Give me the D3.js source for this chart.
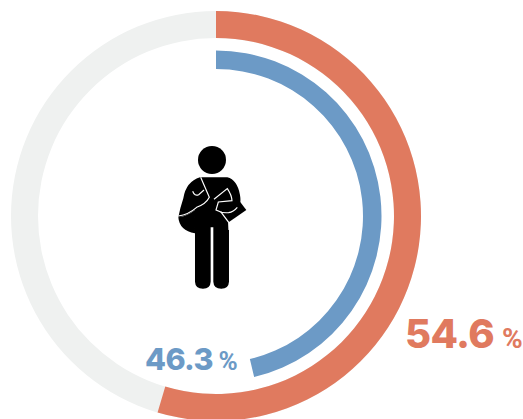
<!DOCTYPE html>
<html>
<head>
<meta charset="utf-8">
<script src="https://cdn.jsdelivr.net/npm/d3@7"></script>
<style>
  html, body { margin: 0; padding: 0; background: #fff; overflow: hidden; }
</style>
</head>
<body>
<div id="chart"></div>
<script>
const seriesNames = ['outer', 'inner'];
const seriesValues = [54.6, 46.3];
const seriesColors = ['#e07a5f', '#6c9ac6'];
const trackColor = '#eff1f0';

const width = 523,
  height = 419,
  cx = 216,
  cy = 216;

const svg = d3
  .select('#chart')
  .append('svg')
  .attr('width', width)
  .attr('height', height)
  .style('display', 'block');

const g = svg.append('g').attr('transform', 'translate(' + cx + ',' + cy + ')');

// Percent to angle, clockwise from the top
const angle = d3.scaleLinear().domain([0, 100]).range([0, 2 * Math.PI]);

const rings = {
  outer: { inner: 178, outer: 205 },
  inner: { inner: 147, outer: 165.5 },
};

// Grey track behind the outer ring
g.append('path')
  .attr('fill', trackColor)
  .attr(
    'd',
    d3.arc()({
      innerRadius: rings.outer.inner,
      outerRadius: rings.outer.outer,
      startAngle: 0,
      endAngle: angle(100),
    })
  );

// Value arcs
seriesNames.forEach((name, i) => {
  g.append('path')
    .attr('fill', seriesColors[i])
    .attr(
      'd',
      d3.arc()({
        innerRadius: rings[name].inner,
        outerRadius: rings[name].outer,
        startAngle: 0,
        endAngle: angle(seriesValues[i]),
      })
    );
});

// Labels
const labelStyle = [
  { x: 405, y: 348, size: 40, pctX: 502, pctSize: 28 },
  { x: 145, y: 370, size: 30.5, pctX: 218.5, pctSize: 26 },
];
seriesValues.forEach((v, i) => {
  const s = labelStyle[i];
  svg
    .append('text')
    .attr('x', s.x)
    .attr('y', s.y)
    .attr('fill', seriesColors[i])
    .style('font-family', 'Inter, sans-serif')
    .style('font-weight', 800)
    .style('letter-spacing', '-0.6px')
    .style('font-size', s.size + 'px')
    .text(v.toFixed(1));
  svg
    .append('text')
    .attr('x', s.pctX)
    .attr('y', s.y)
    .attr('fill', seriesColors[i])
    .style('font-family', 'Roboto, sans-serif')
    .style('font-weight', 700)
    .style('font-size', s.pctSize + 'px')
    .text('%');
});

// Student icon, traced in a 3x grid
const icon = svg.append('g').attr('transform', 'translate(150,130) scale(0.3333)');
icon.append('circle').attr('cx', 186).attr('cy', 90).attr('r', 42).attr('fill', '#000');
// bag flap behind right arm
icon.append('path').attr('fill', '#000').attr('d', 'M262,205 L289,240 L236,277 L212,245 Z');
// bag at the hip
icon.append('path').attr('fill', '#000').attr('d', 'M85,262 Q112,258 135,240 L135,310 Q88,302 85,262 Z');
// torso and legs
icon
  .append('path')
  .attr('fill', '#000')
  .attr(
    'd',
    'M165,142 L232,142 Q262,150 270,195 Q275,225 262,240 L237,262 L237,455 Q236,476 214,476 Q191,476 190,455 L190,292 L182,292 L182,455 Q181,476 159,476 Q136,476 135,455 L135,240 Q110,258 85,262 Q90,235 100,205 Q108,155 150,142 Z'
  );
// white outlines: strap, arms and book
const lines = [
  'M152,142 L178,202 Q168,222 140,232 Q115,254 85,258',
  'M128,184 Q134,200 146,194 L162,180',
  'M192,208 L232,176 Q245,195 246,212 L205,216 L198,240 Q215,250 236,248 Q250,246 262,232',
  'M212,245 L236,277 L237,300',
];
lines.forEach((d) => {
  icon
    .append('path')
    .attr('d', d)
    .attr('fill', 'none')
    .attr('stroke', '#fff')
    .attr('stroke-width', 3.5);
});
</script>
</body>
</html>
